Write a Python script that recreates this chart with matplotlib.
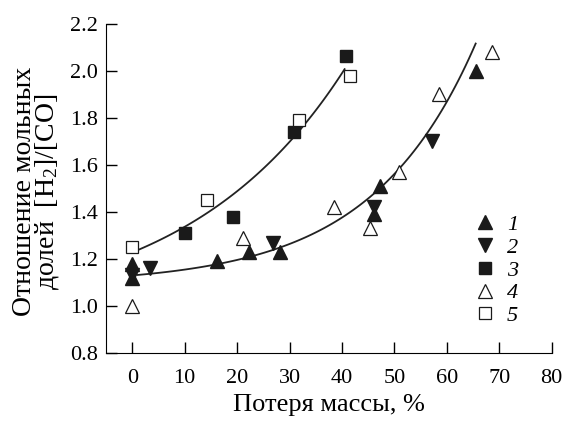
import numpy as np
import matplotlib
matplotlib.use("Agg")
from matplotlib import pyplot as plt

plt.rcParams['font.family'] = ['Liberation Serif', 'DejaVu Serif']
plt.rcParams['mathtext.fontset'] = 'custom'
plt.rcParams['mathtext.rm'] = 'Liberation Serif'
plt.rcParams['mathtext.it'] = 'Liberation Serif:italic'

# series: mass loss (%) and [H2]/[CO]
x1 = [0, 0, 16.2, 22.3, 28.2, 46.2, 47.3, 65.5]
y1 = [1.18, 1.12, 1.19, 1.23, 1.23, 1.39, 1.51, 2.00]
x2 = [0, 3.3, 26.9, 46.2, 57.1]
y2 = [1.13, 1.16, 1.27, 1.42, 1.70]
x3 = [10.1, 19.3, 30.8, 40.7]
y3 = [1.31, 1.38, 1.74, 2.065]
x4 = [0, 21.2, 38.4, 45.4, 50.8, 58.6, 68.7]
y4 = [1.00, 1.29, 1.42, 1.33, 1.57, 1.90, 2.08]
x5 = [0, 14.3, 31.9, 41.6]
y5 = [1.25, 1.45, 1.79, 1.98]

# lower trend line y = c + a*exp(k*x), coefficients as drawn in the source
trend_b = (1.092, 0.038, 0.0503)


def expfit(x, y):
    # y = c + a*exp(k*x), k by grid search, c and a by least squares
    x = np.asarray(x, float)
    y = np.asarray(y, float)
    best = None
    for k in np.linspace(0.005, 0.2, 400):
        A = np.column_stack([np.ones_like(x), np.exp(k * x)])
        coef = np.linalg.lstsq(A, y, rcond=None)[0]
        r = np.sum((A @ coef - y) ** 2)
        if best is None or r < best[0]:
            best = (r, k, coef)
    _, k, (c, a) = best
    return c, a, k


def expcurve(p, t):
    c, a, k = p
    return c + a * np.exp(k * t)


trend_a = expfit(x3 + x5, y3 + y5)
ta = np.linspace(1, 40.5, 100)
tb = np.linspace(1, 65.5, 100)

fig = plt.figure(figsize=(5.69, 4.24), dpi=100)
ax = fig.add_axes([0.1863, 0.1675, 0.7833, 0.7759])

ax.plot(ta, expcurve(trend_a, ta), color='#222222', lw=1.3, zorder=1)
ax.plot(tb, expcurve(trend_b, tb), color='#222222', lw=1.3, zorder=1)

k = dict(linestyle='none', zorder=3)
ax.plot(x1, y1, marker='^', ms=10, color='#1a1a1a', label='1', **k)
ax.plot(x2, y2, marker='v', ms=10, color='#1a1a1a', label='2', **k)
ax.plot(x3, y3, marker='s', ms=8.5, color='#1a1a1a', label='3', **k)
ax.plot(x4, y4, marker='^', ms=10, mfc='white', mec='#1a1a1a', mew=0.9, label='4', **k)
ax.plot(x5, y5, marker='s', ms=8.5, mfc='white', mec='#1a1a1a', mew=0.9, label='5', **k)

ax.set_xlim(-5, 80)
ax.set_ylim(0.8, 2.2)
ax.set_xticks(np.arange(0, 81, 10))
ax.set_yticks(np.arange(0.8, 2.21, 0.2))
ax.yaxis.set_major_formatter(matplotlib.ticker.FormatStrFormatter('%.1f'))
ax.spines['top'].set_visible(False)
ax.spines['right'].set_visible(False)
ax.tick_params(direction='in', length=8, width=1, labelsize=16)
ax.tick_params(axis='x', pad=11.5)
ax.tick_params(axis='y', pad=6)

ax.set_xlabel('Потеря массы, %', fontsize=19)
ax.xaxis.set_label_coords(0.5, -0.125)
ax.xaxis.label.set_va('top')
ax.set_ylabel('Отношение мольных\nдолей  [H$_2$]/[CO]', fontsize=20, linespacing=0.85)
ax.yaxis.set_label_coords(-0.10, 0.49)

leg = ax.legend(loc='upper left', bbox_to_anchor=(0.80, 0.455), frameon=False,
                handlelength=1.0, handletextpad=0.5, labelspacing=0.1,
                borderpad=0, prop={'style': 'italic', 'size': 16})

fig.savefig('out.png', dpi=100)
